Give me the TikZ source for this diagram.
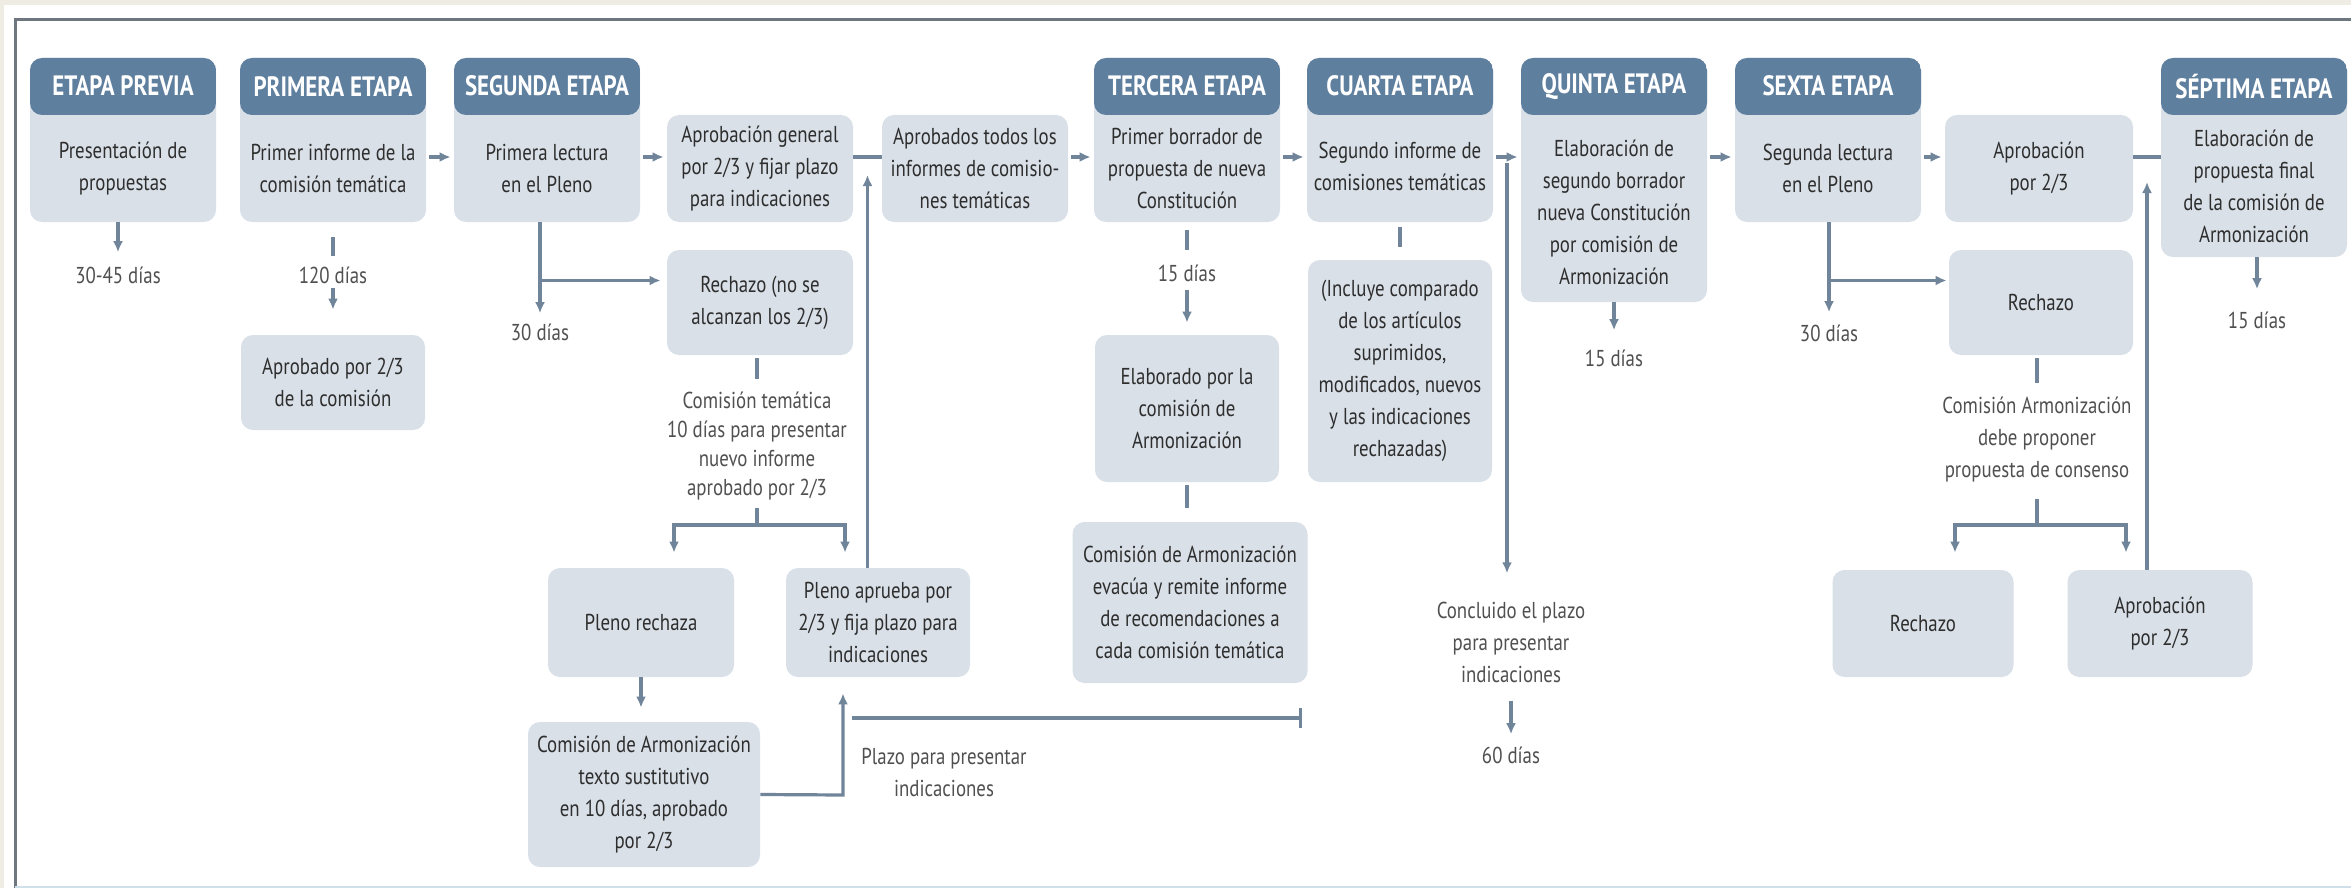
\documentclass[tikz,border=0pt]{standalone}
\usepackage{fontspec}
\setmainfont{PT Sans}[FakeStretch=0.82]
\usetikzlibrary{arrows.meta,calc}
\definecolor{fondo}{HTML}{EFECE4}
\definecolor{azul}{HTML}{5F7F9F}
\definecolor{gris}{HTML}{D9E0E8}
\definecolor{linea}{HTML}{71859A}
\definecolor{texto}{HTML}{2E2E2E}
\definecolor{nota}{HTML}{505050}
\definecolor{marco}{HTML}{6E7680}
\definecolor{celeste}{HTML}{CFE0EA}
\begin{document}
\begin{tikzpicture}[
  x=0.5pt, y=-0.5pt,
  caja/.style={rectangle, rounded corners=6pt, fill=gris, text=texto, align=center, inner sep=0pt,
    minimum width=93pt, font=\fontsize{11.5}{16}\selectfont},
  etapa/.style={caja, path picture={\fill[azul] (path picture bounding box.north west)
    rectangle ([yshift=-28.5pt]path picture bounding box.north east);}},
  titulo/.style={text=white, inner sep=0pt, font=\bfseries\fontsize{14}{16}\selectfont},
  cuerpo/.style={text=texto, align=center, inner sep=0pt, font=\fontsize{11.5}{16}\selectfont},
  dias/.style={text=nota, align=center, inner sep=0pt, font=\fontsize{11.5}{16}\selectfont},
  flecha/.style={draw=linea, line width=1.6pt, -{Latex[length=5.5pt,width=5pt]}},
  tramo/.style={draw=linea, line width=1.6pt}
]
  \useasboundingbox (0,0) rectangle (2351,888);
  \fill[fondo] (0,0) rectangle (2351,888);
  \fill[white] (4,5) rectangle (2351,888);
  \draw[marco, line width=1.5pt] (15,888) -- (15,20) -- (2351,20);
  \draw[celeste, line width=1.5pt] (15,887) -- (2351,887);

  \node[etapa, minimum height=82pt] (ep) at (123,140) {};
  \node[titulo] (ep-t) at ([yshift=-14.25pt]ep.north) {ETAPA PREVIA};
  \node[cuerpo] (ep-c) at (123,168.5) {Presentación de\\propuestas};

  \node[etapa, minimum height=82pt] (pe) at (333,140) {};
  \node[titulo] (pe-t) at ([yshift=-14.25pt]pe.north) {PRIMERA ETAPA};
  \node[cuerpo] (pe-c) at (333,168.5) {Primer informe de la\\comisión temática};

  \node[etapa, minimum height=82pt] (se) at (547,140) {};
  \node[titulo] (se-t) at ([yshift=-14.25pt]se.north) {SEGUNDA ETAPA};
  \node[cuerpo] (se-c) at (547,168.5) {Primera lectura\\en el Pleno};

  \node[caja, minimum height=53.5pt] (ag) at (760,168.5) {Aprobación general\\por 2/3 y fijar plazo\\para indicaciones};
  \node[caja, minimum height=53.5pt] (at) at (975,168.5) {Aprobados todos los\\informes de comisio-\\nes temáticas};

  \node[etapa, minimum height=82pt] (te) at (1187,140) {};
  \node[titulo] (te-t) at ([yshift=-14.25pt]te.north) {TERCERA ETAPA};
  \node[cuerpo] (te-c) at (1187,168.5) {Primer borrador de\\propuesta de nueva\\Constitución};

  \node[etapa, minimum height=82pt] (cu) at (1400,140) {};
  \node[titulo] (cu-t) at ([yshift=-14.25pt]cu.north) {CUARTA ETAPA};
  \node[cuerpo] (cu-c) at (1400,166) {Segundo informe de\\comisiones temáticas};

  \node[etapa, minimum height=122pt] (qu) at (1614,180) {};
  \node[titulo] (qu-t) at ([yshift=-14.25pt]qu.north) {QUINTA ETAPA};
  \node[cuerpo] (qu-c) at (1614,212) {Elaboración de\\segundo borrador\\nueva Constitución\\por comisión de\\Armonización};

  \node[etapa, minimum height=82pt] (sx) at (1828,140) {};
  \node[titulo] (sx-t) at ([yshift=-14.25pt]sx.north) {SEXTA ETAPA};
  \node[cuerpo] (sx-c) at (1828,168.5) {Segunda lectura\\en el Pleno};

  \node[caja, minimum height=53.5pt, minimum width=94pt] (ap) at (2039,168.5) {Aprobación\\por 2/3};

  \node[etapa, minimum height=99.5pt] (sp) at (2254,157.5) {};
  \node[titulo] (sp-t) at ([yshift=-14.25pt]sp.north) {SÉPTIMA ETAPA};
  \node[cuerpo] (sp-c) at (2254,186) {Elaboración de\\propuesta final\\de la comisión de\\Armonización};

  \node[caja, minimum height=47.5pt, minimum width=92pt] (apc) at (333,382.5) {Aprobado por 2/3\\de la comisión};
  \node[caja, minimum height=52.5pt] (rz1) at (760,302.5) {Rechazo (no se\\alcanzan los 2/3)};
  \node[caja, minimum height=73.5pt, minimum width=92pt] (el) at (1187,408.5) {Elaborado por la\\comisión de\\Armonización};
  \node[caja, minimum height=111pt, minimum width=92pt] (inc) at (1400,371) {(Incluye comparado\\de los artículos\\suprimidos,\\modificados, nuevos\\y las indicaciones\\rechazadas)};
  \node[caja, minimum height=52.5pt, minimum width=92pt] (rz2) at (2041,302.5) {Rechazo};

  \node[caja, minimum height=54.5pt] (pr) at (641,622.5) {Pleno rechaza};
  \node[caja, minimum height=54.5pt, minimum width=92pt] (pa) at (878,622.5) {Pleno aprueba por\\2/3 y fija plazo para\\indicaciones};
  \node[caja, minimum height=80.5pt, minimum width=117.5pt] (ev) at (1190,602.5) {Comisión de Armonización\\evacúa y remite informe\\de recomendaciones a\\cada comisión temática};
  \node[caja, minimum height=53.5pt, minimum width=90.5pt] (rz3) at (1923,623.5) {Rechazo};
  \node[caja, minimum height=53.5pt, minimum width=92.5pt] (ap2) at (2160,623.5) {Aprobación\\por 2/3};
  \node[caja, minimum height=72.5pt, minimum width=116pt] (cts) at (644,794.5) {Comisión de Armonización\\texto sustitutivo\\en 10 días, aprobado\\por 2/3};

  \node[dias] (d1) at (118,275) {30-45 días};
  \node[dias] (d2) at (333,275) {120 días};
  \node[dias] (d3) at (540,332) {30 días};
  \node[dias, font=\fontsize{11.5}{14.5}\selectfont] (ct) at (757,446) {Comisión temática\\10 días para presentar\\nuevo informe\\aprobado por 2/3};
  \node[dias] (d4) at (1187,273) {15 días};
  \node[dias] (d5) at (1614,358) {15 días};
  \node[dias] (d6) at (1829,333) {30 días};
  \node[dias] (ca) at (2037,440) {Comisión Armonización\\debe proponer\\propuesta de consenso};
  \node[dias] (d7) at (2257,320) {15 días};
  \node[dias] (cp) at (1511,642) {Concluido el plazo\\para presentar\\indicaciones};
  \node[dias] (d8) at (1511,755) {60 días};
  \node[dias] (pp) at (944,772) {Plazo para presentar\\indicaciones};

  \coordinate (fila) at (0,157);
  \coordinate (j1) at ($(ag.east)!0.5!(at.west)$);
  \coordinate (j2) at ($(cu.east)!0.5!(qu.west)$);
  \coordinate (j3) at ($(ap.east)!0.5!(sp.west)$);
  \coordinate (j5) at (843,795);
  \coordinate (k1) at (757,525);
  \coordinate (k1a) at (674,525);
  \coordinate (k1b) at (845,525);
  \coordinate (k2) at (2037,525);
  \coordinate (k2a) at (1955,525);
  \coordinate (k2b) at (2126,525);
  \coordinate (pz1) at (852,718);
  \coordinate (pz2) at (1302,718);

  \draw[flecha, shorten <=1.5pt, shorten >=1.5pt] (pe.east |- fila) -- (se.west |- fila);
  \draw[flecha, shorten <=1.5pt, shorten >=1.5pt] (se.east |- fila) -- (ag.west |- fila);
  \draw[tramo] (ag.east |- fila) -- (at.west |- fila);
  \draw[flecha, shorten <=1.5pt, shorten >=1.5pt] (at.east |- fila) -- (te.west |- fila);
  \draw[flecha, shorten <=1.5pt, shorten >=1.5pt] (te.east |- fila) -- (cu.west |- fila);
  \draw[flecha, shorten <=1.5pt, shorten >=1.5pt] (cu.east |- fila) -- (qu.west |- fila);
  \draw[flecha, shorten <=1.5pt, shorten >=1.5pt] (qu.east |- fila) -- (sx.west |- fila);
  \draw[flecha, shorten <=1.5pt, shorten >=1.5pt] (sx.east |- fila) -- (ap.west |- fila);
  \draw[tramo] (ap.east |- fila) -- (sp.west |- fila);

  \draw[flecha, shorten >=9pt] (pa.north -| j1) -- (j1 |- fila);
  \draw[flecha, shorten >=12.5pt] (ap2.north -| j3) -- (j3 |- fila);
  \draw[flecha, shorten <=3pt, shorten >=14pt] (j2 |- fila) -- (j2 |- cp.north);

  \draw[flecha, shorten >=7pt] (ep.south -| d1) -- (d1.north);
  \draw[tramo, shorten <=7.5pt, shorten >=5pt] (pe.south) -- (d2.north);
  \draw[flecha, shorten <=2pt, shorten >=12.5pt] (d2.south) -- (apc.north);
  \draw[flecha, shorten >=5pt] (se.south -| d3) -- (d3.north);
  \draw[flecha, shorten >=3pt] ([yshift=11pt]rz1.west -| d3) -- ([yshift=11pt]rz1.west);
  \draw[tramo, shorten <=4pt, shorten >=7pt] (te.south) -- (d4.north);
  \draw[flecha, shorten <=4pt, shorten >=6pt] (d4.south) -- (el.north);
  \draw[tramo, shorten <=1.5pt, shorten >=7pt] (el.south) -- (el.south |- ev.north);
  \draw[tramo, shorten <=2.5pt, shorten >=6.5pt] (cu.south) -- (inc.north);
  \draw[flecha, shorten >=9.5pt] (qu.south) -- (d5.north);
  \draw[flecha, shorten >=6pt] (sx.south -| d6) -- (d6.north);
  \draw[flecha, shorten >=1pt] ([yshift=11pt]rz2.west -| d6) -- ([yshift=11pt]rz2.west);
  \draw[flecha, shorten >=11pt] (sp.south -| d7) -- (d7.north);

  \draw[tramo, shorten <=1.5pt, shorten >=6.5pt] (rz1.south -| ct) -- (ct.north);
  \draw[tramo, shorten <=4pt] (ct.south) -- (k1);
  \draw[flecha, shorten >=7.5pt] (k1) -- (k1a) -- (k1a |- pr.north);
  \draw[flecha, shorten >=7.5pt] (k1) -- (k1b) -- (k1b |- pa.north);
  \draw[flecha, shorten >=7pt] (pr.south) -- (pr.south |- cts.north);
  \draw[flecha, shorten >=8pt] (cts.east) -- (j5) -- (j5 |- pa.south);
  \draw[draw=linea, line width=1.6pt, -{Bar[width=10pt]}] (pz1) -- (pz2);

  \draw[tramo, shorten <=1.5pt, shorten >=7pt] (rz2.south -| ca) -- (ca.north);
  \draw[tramo, shorten <=8pt] (ca.south) -- (k2);
  \draw[flecha, shorten >=8.5pt] (k2) -- (k2a) -- (k2a |- rz3.north);
  \draw[flecha, shorten >=8.5pt] (k2) -- (k2b) -- (k2b |- ap2.north);
  \draw[flecha, shorten <=9pt, shorten >=6pt] (cp.south) -- (d8.north);
\end{tikzpicture}
\end{document}
